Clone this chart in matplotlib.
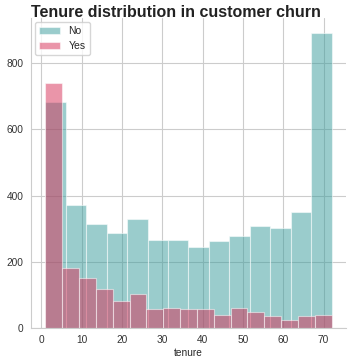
import numpy as np
import matplotlib
matplotlib.use("Agg")
import matplotlib.pyplot as plt
import seaborn as sns

# Data
tenure_min, tenure_max = 1, 72
no_counts = [684, 372, 315, 287, 328, 266, 266, 245, 263, 278, 309, 303, 351, 893]
yes_counts = [741, 180, 151, 116, 80, 101, 57, 61, 56, 56, 40, 59, 47, 36, 24, 36, 40]
labels = ["No", "Yes"]
colors = ["#379B9B", "#D72D55"]
title = "Tenure distribution in customer churn"
xlabel = "tenure"

sns.set_style("whitegrid")
plt.rcParams['font.family'] = ['Liberation Sans', 'DejaVu Sans']

fig = plt.figure(figsize=(3.52, 3.63), dpi=100)
ax = fig.add_axes([0.088, 0.097, 0.895, 0.854])

for counts, lab, col in zip([no_counts, yes_counts], labels, colors):
    edges = np.linspace(tenure_min, tenure_max, len(counts) + 1)
    ax.bar(edges[:-1], counts, width=np.diff(edges), align="edge",
           color=col, alpha=0.5, edgecolor="white", linewidth=0.8, label=lab)

ax.set_xlim(tenure_min - 0.05 * (tenure_max - tenure_min), tenure_max + 0.05 * (tenure_max - tenure_min))
ax.set_ylim(0, max(no_counts + yes_counts) * 1.05)
ax.set_xticks([0, 10, 20, 30, 40, 50, 60, 70])
ax.set_yticks([0, 200, 400, 600, 800])
ax.tick_params(labelsize=7.3, pad=2, colors="#333333")
ax.set_xlabel(xlabel, fontsize=7.3, labelpad=2)
ax.grid(True, color="#cccccc", linewidth=0.8)
sns.despine(ax=ax)
ax.legend(loc="upper left", fontsize=7.5, frameon=True, borderaxespad=0.4)
fig.suptitle(title, fontsize=11.5, fontweight="bold", x=0.5, y=0.985, color="#222222")

fig.savefig("out.png", dpi=100)
